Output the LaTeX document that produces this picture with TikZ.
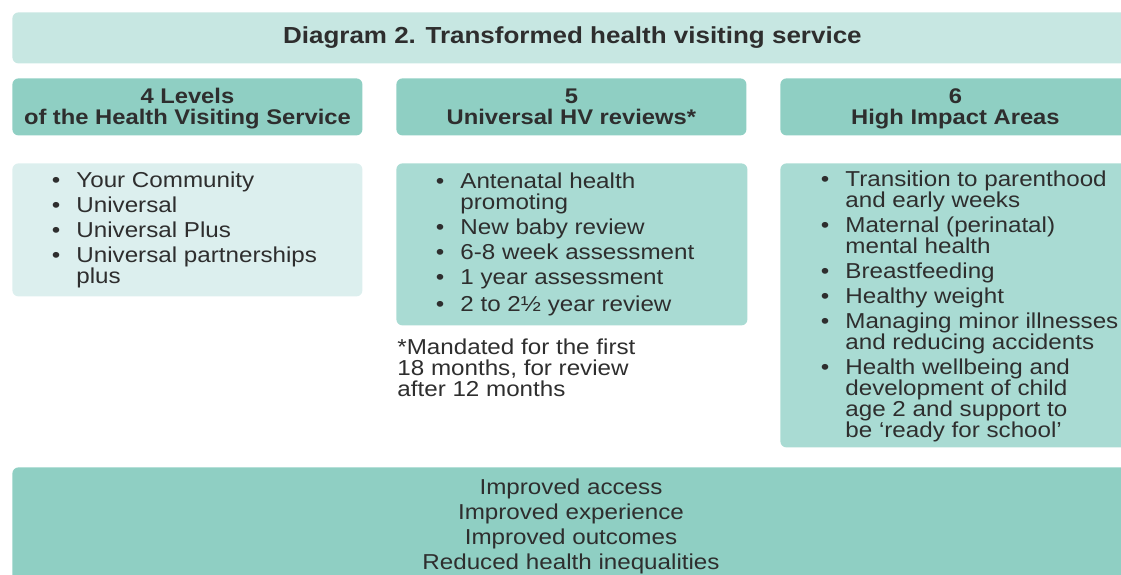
\documentclass[tikz,border=0pt]{standalone}
\usepackage{fontspec}
\setmainfont{Liberation Sans}[FakeStretch=1.12]
\usepackage{xcolor}
\definecolor{titlefill}{HTML}{C7E7E2}
\definecolor{headfill}{HTML}{8FCFC3}
\definecolor{palefill}{HTML}{DCEFEE}
\definecolor{midfill}{HTML}{A9DBD3}
\definecolor{txt}{HTML}{2E2E2E}
\tikzset{panel/.style={rectangle, rounded corners=3pt, anchor=north west, inner sep=0pt}}
\tikzset{hbox/.style={panel, fill=headfill, minimum width=175pt, minimum height=28.5pt}}
\tikzset{htext/.style={inner sep=0pt, align=center, text=txt, text height=18.2pt, text depth=2.2pt, font=\fontsize{10.6}{10.5}\selectfont\bfseries}}
\tikzset{blist/.style={anchor=north west, inner sep=0pt, align=left, text=txt, font=\fontsize{10.8}{10.5}\selectfont}}
\newcommand{\bl}{\llap{\textbullet\hspace{8pt}}}

\begin{document}
\begin{tikzpicture}[x=0.5pt,y=-0.5pt]
\useasboundingbox (0,0) rectangle (1121,574);
\node[panel, fill=titlefill, minimum width=560pt, minimum height=25.5pt, text=txt, font=\fontsize{11.6}{14}\selectfont\bfseries] (title) at (12,12) {\raisebox{-1.5pt}{Diagram 2. Transformed health visiting service}};
\node[hbox] (levels) at (12,78) {};
\node[hbox] (reviews) at (396,78) {};
\node[hbox] (impact) at (780,78) {};
\node[htext] (levelstext) at ([yshift=-0.8pt]levels.center) {4 Levels\\of the Health Visiting Service};
\node[htext] (reviewstext) at ([yshift=-0.8pt]reviews.center) {5\\Universal HV reviews*};
\node[htext] (impacttext) at ([yshift=-0.8pt]impact.center) {6\\High Impact Areas};
\node[panel, fill=palefill, minimum width=175pt, minimum height=66.5pt] (levelsbox) at (12,163) {};
\node[panel, fill=midfill, minimum width=175.5pt, minimum height=81pt] (reviewsbox) at (396,163) {};
\node[panel, fill=midfill, minimum width=175pt, minimum height=142pt] (impactbox) at (780,163) {};
\node[blist] (levelslist) at (76,171) {\bl Your Community\\[2pt]\bl Universal\\[2pt]\bl Universal Plus\\[2pt]\bl Universal partnerships\\plus};
\node[blist] (reviewslist) at (460,172) {\bl Antenatal health\\promoting\\[2pt]\bl New baby review\\[2pt]\bl 6-8 week assessment\\[2pt]\bl 1 year assessment\\[3pt]\bl 2 to 2½ year review};
\node[blist] (mandated) at (397,338) {*Mandated for the first\\18 months, for review\\after 12 months};
\node[blist] (impactlist) at (845,170) {\bl Transition to parenthood\\and early weeks\\[2pt]\bl Maternal (perinatal)\\mental health\\[2pt]\bl Breastfeeding\\[2pt]\bl Healthy weight\\[2pt]\bl Managing minor illnesses\\and reducing accidents\\[2pt]\bl Health wellbeing and\\development of child\\age 2 and support to\\be ‘ready for school’};
\node[panel, fill=headfill, minimum width=560pt, minimum height=62pt] (outcomes) at (12,467) {};
\node[blist, anchor=north, align=center, font=\fontsize{10.8}{12.5}\selectfont] (outcomestext) at (571,478) {Improved access\\Improved experience\\Improved outcomes\\Reduced health inequalities};
\end{tikzpicture}
\end{document}
